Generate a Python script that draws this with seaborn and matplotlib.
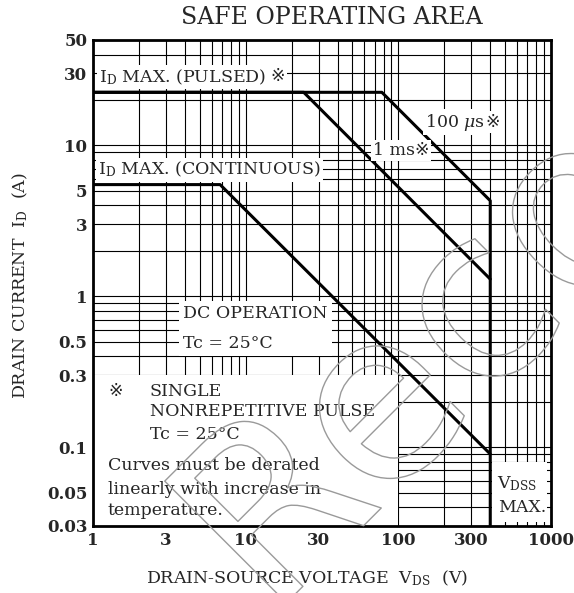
import numpy as np
import pandas as pd
import matplotlib
matplotlib.use("Agg")
import matplotlib.pyplot as plt
import matplotlib.patheffects as pe
from matplotlib.patches import Rectangle
from matplotlib.ticker import LogLocator, NullFormatter
import seaborn as sns

# SOA boundaries (V_DS in volts, I_D in amps)
DC_V = [1, 6.8, 400]
DC_I = [5.5, 5.5, 0.09]
MS1_V = [1, 24, 400]
MS1_I = [22.5, 22.5, 1.3]
US100_V = [1, 78, 400, 400]
US100_I = [22.5, 22.5, 4.3, 0.03]

X_TICKS = [1, 3, 10, 30, 100, 300, 1000]
X_TICK_LABELS = ["1", "3", "10", "30", "100", "300", "1000"]
Y_TICKS = [0.03, 0.05, 0.1, 0.3, 0.5, 1, 3, 5, 10, 30, 50]
Y_TICK_LABELS = ["0.03", "0.05", "0.1", "0.3", "0.5", "1", "3", "5", "10", "30", "50"]
VDSS = 400

df = pd.concat([
    pd.DataFrame({"V": DC_V, "I": DC_I, "curve": "DC"}),
    pd.DataFrame({"V": MS1_V, "I": MS1_I, "curve": "1ms"}),
    pd.DataFrame({"V": US100_V, "I": US100_I, "curve": "100us"}),
])

sns.set_style("white")
plt.rcParams["font.family"] = ["DejaVu Serif", "DejaVu Sans", "Noto Sans CJK JP"]
plt.rcParams["mathtext.fontset"] = "dejavuserif"

fig = plt.figure(figsize=(5.74, 5.93), dpi=100)
ax = fig.add_axes([93 / 574, 1 - 526 / 593, (551 - 93) / 574, (526 - 40) / 593])

for name, g in df.groupby("curve", sort=False):
    sns.lineplot(data=g, x="V", y="I", sort=False, estimator=None,
                 color="black", lw=2.2, ax=ax, zorder=3, legend=False)
ax.set_xlabel("")
ax.set_ylabel("")

ax.set_xscale("log")
ax.set_yscale("log")
ax.set_xlim(1, 1000)
ax.set_ylim(0.03, 50)

ax.set_xticks(X_TICKS)
ax.set_xticklabels(X_TICK_LABELS)
ax.set_yticks(Y_TICKS)
ax.set_yticklabels(Y_TICK_LABELS)
ax.xaxis.set_minor_locator(LogLocator(base=10, subs=np.arange(2, 10), numticks=20))
ax.yaxis.set_minor_locator(LogLocator(base=10, subs=np.arange(2, 10), numticks=20))
ax.xaxis.set_minor_formatter(NullFormatter())
ax.yaxis.set_minor_formatter(NullFormatter())
ax.tick_params(which="both", length=0)
ax.tick_params(axis="both", labelsize=12, pad=4)
for lab in ax.get_xticklabels() + ax.get_yticklabels():
    lab.set_fontweight("bold")

ax.grid(which="both", color="black", lw=0.8)
for s in ax.spines.values():
    s.set_visible(True)
    s.set_color("black")
    s.set_linewidth(2)

# areas of the chart where the printed grid is left out
ax.add_patch(Rectangle((1, 0.03), 100 - 1, 0.3 - 0.03, facecolor="white",
                       edgecolor="none", zorder=1.8))
ax.add_patch(Rectangle((VDSS * 1.03, 0.03 * 1.07), 1000 / 1.07 - VDSS * 1.03,
                       0.08 - 0.03 * 1.07, facecolor="white", edgecolor="none",
                       zorder=1.8))

box = dict(facecolor="white", edgecolor="none", pad=1.5)
tkw = dict(fontsize=12.5, zorder=4)
t = ax.text(1.1, 28.5, "I$_\\mathrm{D}$ MAX. (PULSED)", va="center", bbox=box, **tkw)
ax.annotate("\u203b", xy=(1, 0.5), xycoords=t, xytext=(3, 0), textcoords="offset points",
            va="center", ha="left", bbox=box, **tkw)
t = ax.text(150, 14.3, "100 $\\mu$s", va="center", bbox=box, **tkw)
ax.annotate("\u203b", xy=(1, 0.5), xycoords=t, xytext=(0, 0), textcoords="offset points",
            va="center", ha="left", bbox=box, **tkw)
ax.text(68, 9.3, "1 ms\u203b", va="center", bbox=box, **tkw)
ax.text(1.08, 6.9, "I$_\\mathrm{D}$ MAX. (CONTINUOUS)", va="center", bbox=box, **tkw)
ax.text(3.9, 0.61, "DC OPERATION\nTc = 25\u00b0C", va="center", linespacing=2.0,
        bbox=dict(facecolor="white", edgecolor="none", pad=3), **tkw)
ax.text(1.27, 0.232, "\u203b", va="center", **tkw)
ax.text(2.36, 0.232, "SINGLE", va="center", **tkw)
ax.text(2.36, 0.171, "NONREPETITIVE PULSE", va="center", **tkw)
ax.text(2.36, 0.122, "Tc = 25\u00b0C", va="center", **tkw)
ax.text(1.25, 0.076, "Curves must be derated", va="center", **tkw)
ax.text(1.25, 0.0527, "linearly with increase in", va="center", **tkw)
ax.text(1.25, 0.038, "temperature.", va="center", **tkw)
ax.text(440, 0.0577, "V$_\\mathrm{DSS}$", va="center", **tkw)
ax.text(450, 0.0400, "MAX.", va="center", **tkw)

fig.text(332 / 574, 1 - 17 / 593, "SAFE OPERATING AREA", ha="center", va="center",
         fontsize=17)
fig.text(307 / 574, 1 - 578 / 593, "DRAIN-SOURCE VOLTAGE  V$_\\mathrm{DS}$  (V)",
         ha="center", va="center", fontsize=12.5)
fig.text(20 / 574, 1 - 286 / 593, "DRAIN CURRENT  I$_\\mathrm{D}$  (A)",
         ha="center", va="center", rotation=90, fontsize=12.5)

# faint outlined watermark across the sheet
fig.text(0.25, -0.02, "Reco", fontsize=170, rotation=45, family="DejaVu Sans",
         color=(1, 1, 1, 0), ha="left", va="baseline", zorder=5,
         path_effects=[pe.Stroke(linewidth=1, foreground="#9a9a9a")])

fig.savefig("out.png", dpi=100, facecolor="white")
